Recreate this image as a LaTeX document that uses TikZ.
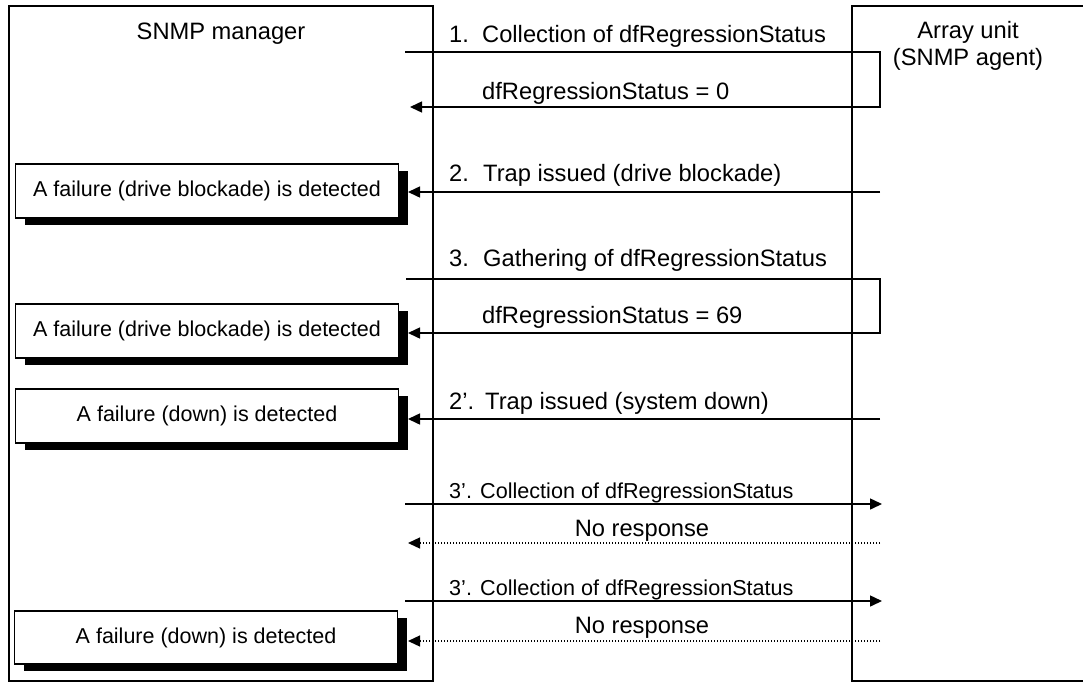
\documentclass[tikz,border=0pt]{standalone}
\usepackage{fontspec}
\setmainfont{Liberation Sans}
\usetikzlibrary{arrows.meta,shadows}
\begin{document}
\begin{tikzpicture}[x=1pt,y=-1pt,
  lanebox/.style={draw, line width=1.5pt, inner sep=0pt},
  msg/.style={line width=1.5pt,-{Triangle[length=12pt,width=11pt]}},
  noresp/.style={line width=1.3pt,dash pattern=on 1.3pt off 1.7pt,-{Triangle[length=12pt,width=11pt]}},
  big/.style={font=\fontsize{23.7}{27}\selectfont, inner sep=0pt},
  small/.style={font=\fontsize{21.6}{25}\selectfont, inner sep=0pt},
  fail/.style={draw, line width=1.3pt, fill=white, minimum width=383pt, minimum height=54pt,
    inner sep=0pt, font=\fontsize{21.5}{25}\selectfont,
    drop shadow={shadow xshift=9.5pt, shadow yshift=-6.5pt, fill=black, opacity=1}}
]
\useasboundingbox (0,0) rectangle (1083,688);
% lanes
\node[lanebox, minimum width=424pt, minimum height=675pt] (mgr) at (221,343.5) {};
\node[lanebox, minimum width=260pt, minimum height=675pt] (agt) at (982,343.5) {};
\node[big] (mgrt) at (221,34) {SNMP manager};
\node[big, align=center] (agtt) at (968,46) {Array unit\\(SNMP agent)};

% message 1
\coordinate (m1s) at (405,52);
\coordinate (m1r) at (880,52);
\coordinate (m1d) at (880,107);
\coordinate (m1e) at (410,107);
\draw[msg] (m1s) -- (m1r) -- (m1d) -- (m1e);
\node[big, anchor=base west] (l1) at (449,42) {\makebox[33pt][l]{1.}Collection of dfRegressionStatus};
\node[big, anchor=base west] (l1r) at (482,99) {dfRegressionStatus = 0};

% failure boxes
\node[fail] (b1) at (207,191) {A failure (drive blockade) is detected};
\node[fail] (b2) at (207,331) {A failure (drive blockade) is detected};
\node[fail] (b3) at (207,416) {A failure (down) is detected};
\node[fail, minimum height=53pt] (b4) at (206,637.5) {A failure (down) is detected};

% message 2
\coordinate (m2s) at (880,192);
\coordinate (m2e) at (408,192);
\draw[msg] (m2s) -- (m2e);
\node[big, anchor=base west] (l2) at (449,181) {\makebox[34pt][l]{2.}Trap issued (drive blockade)};

% message 3
\coordinate (m3s) at (406,279);
\coordinate (m3r) at (880,279);
\coordinate (m3d) at (880,333);
\coordinate (m3e) at (408,333);
\draw[msg] (m3s) -- (m3r) -- (m3d) -- (m3e);
\node[big, anchor=base west] (l3) at (449,266) {\makebox[34pt][l]{3.}Gathering of dfRegressionStatus};
\node[big, anchor=base west] (l3r) at (482,323) {dfRegressionStatus = 69};

% message 2'
\coordinate (m4s) at (880,419);
\coordinate (m4e) at (408,419);
\draw[msg] (m4s) -- (m4e);
\node[big, anchor=base west] (l4) at (449,409) {\makebox[36pt][l]{2’.}Trap issued (system down)};

% message 3' (first)
\coordinate (m5s) at (405,504);
\coordinate (m5e) at (882,504);
\draw[msg] (m5s) -- (m5e);
\node[small, anchor=base west] (l5) at (449,498) {\makebox[31pt][l]{3’.}Collection of dfRegressionStatus};
\coordinate (m6s) at (880,543);
\coordinate (m6e) at (408,543);
\draw[noresp] (m6s) -- (m6e);
\node[big, anchor=base] (l6) at (642,536) {No response};

% message 3' (second)
\coordinate (m7s) at (405,601);
\coordinate (m7e) at (882,601);
\draw[msg] (m7s) -- (m7e);
\node[small, anchor=base west] (l7) at (449,595) {\makebox[31pt][l]{3’.}Collection of dfRegressionStatus};
\coordinate (m8s) at (880,641);
\coordinate (m8e) at (408,641);
\draw[noresp] (m8s) -- (m8e);
\node[big, anchor=base] (l8) at (642,633) {No response};
\end{tikzpicture}
\end{document}
